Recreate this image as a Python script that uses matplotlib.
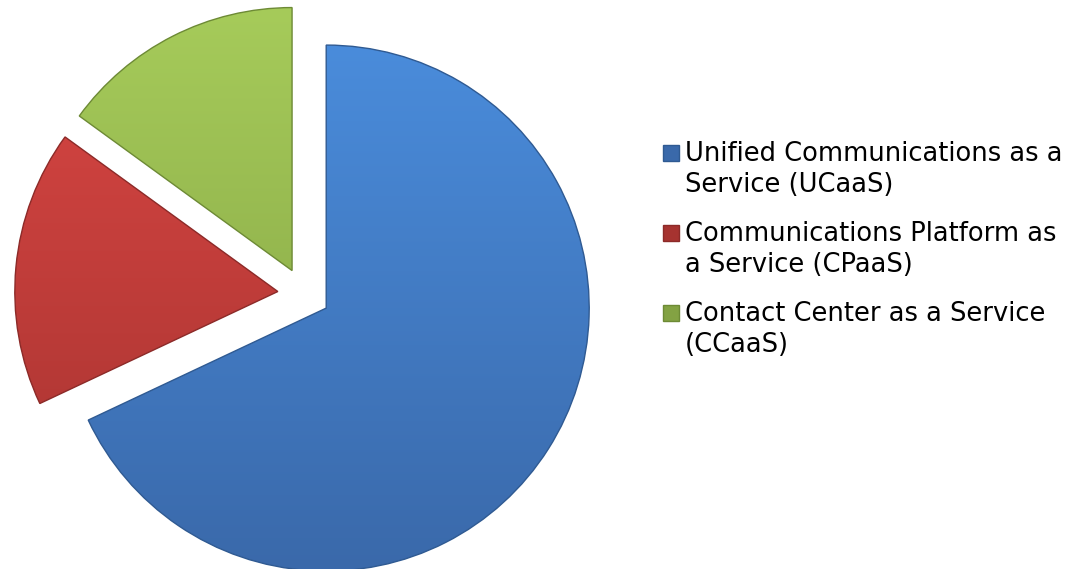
import matplotlib
matplotlib.use('Agg')
import matplotlib.pyplot as plt
import numpy as np
from matplotlib.colors import LinearSegmentedColormap
from matplotlib.patches import Rectangle

labels = ['Unified Communications as a\nService (UCaaS)',
          'Communications Platform as\na Service (CPaaS)',
          'Contact Center as a Service\n(CCaaS)']
shares = [68, 17, 15]
light = ['#4a8cdb', '#d84643', '#a6cb5a']
dark = ['#3a69aa', '#a63330', '#83a243']
edge = ['#2f5a92', '#8c2a28', '#6d8a35']

W, H = 1079, 569
cx, cy, r = 304, 294, 263  # pie centre and radius in pixels

fig = plt.figure(figsize=(W / 100, H / 100), dpi=100)
ax = fig.add_axes([0, 0, 1, 1])

wedges, _ = ax.pie(shares, startangle=90, counterclock=False,
                   explode=[0.1] * len(shares), radius=1,
                   colors=light, wedgeprops=dict(linewidth=1.0))
ax.set_aspect('auto')
ax.axis('off')

# vertical gradient inside every wedge
grad = np.linspace(0, 1, 256).reshape(-1, 1)
for w, c0, c1, ec in zip(wedges, light, dark, edge):
    x0, y0 = w.center
    cmap = LinearSegmentedColormap.from_list('g', [c0, c1])
    im = ax.imshow(grad, cmap=cmap, aspect='auto',
                   extent=[x0 - 1, x0 + 1, y0 - 1, y0 + 1], zorder=1)
    im.set_clip_path(w)
    w.set_facecolor('none')
    w.set_edgecolor(ec)
    w.set_zorder(2)

ax.set_xlim(-cx / r, (W - cx) / r)
ax.set_ylim(-(H - cy) / r, cy / r)

# legend drawn by hand so the marker sits on the first line
for i, (lab, c0, c1, ec) in enumerate(zip(labels, light, dark, edge)):
    base = 161 + 80 * i
    fig.patches.append(Rectangle((663 / W, 1 - base / H), 16 / W, 16 / H,
                                 transform=fig.transFigure, facecolor=c1,
                                 edgecolor=ec, linewidth=1.0))
    for j, line in enumerate(lab.split('\n')):
        fig.text(685 / W, 1 - (base + 31 * j) / H, line, fontsize=18.5,
                 va='baseline', ha='left', color='black')

fig.savefig('out.png', dpi=100)
